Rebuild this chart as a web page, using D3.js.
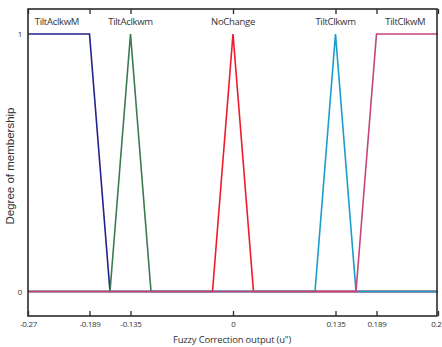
<!DOCTYPE html>
<html>
<head>
<meta charset="utf-8">
<script src="https://cdn.jsdelivr.net/npm/d3@7"></script>
<style>
  body { margin: 0; background: #fff; }
  svg { display: block; }
  .mf-label { font-family: "Open Sans", sans-serif; font-size: 9.5px; letter-spacing: -0.3px; fill: #333; }
  .tick text { font-family: "Open Sans", sans-serif; font-size: 8px; letter-spacing: -0.3px; fill: #333; }
</style>
</head>
<body>
<div id="chart"></div>
<script>
// fonctions d'appartenance (points x, y)
const mfNames = ["TiltAclkwM", "TiltAclkwm", "NoChange", "TiltClkwm", "TiltClkwM"];
const mfColors = ["#23238a", "#3c7a52", "#ee1c2a", "#1a9dcc", "#c4447e"];
const mfX = [
  [-0.27, -0.189, -0.162, 0.27],
  [-0.27, -0.162, -0.135, -0.108, 0.27],
  [-0.27, -0.027, 0, 0.027, 0.27],
  [-0.27, 0.108, 0.135, 0.162, 0.27],
  [-0.27, 0.162, 0.189, 0.27]
];
const mfY = [
  [1, 1, 0, 0],
  [0, 0, 1, 0, 0],
  [0, 0, 1, 0, 0],
  [0, 0, 1, 0, 0],
  [0, 0, 1, 1]
];
const labelX = [-0.232, -0.135, 0, 0.135, 0.227];
const xTicks = [-0.27, -0.189, -0.135, 0, 0.135, 0.189, 0.27];
const yTicks = [0, 1];

const width = 442, height = 347;
const mLeft = 28, mRight = 437, mTop = 9, mBottom = 316;

const svg = d3.select("#chart").append("svg")
  .attr("width", width)
  .attr("height", height);

const x = d3.scaleLinear().domain([-0.27, 0.27]).range([mLeft, 438]);
const y = d3.scaleLinear().domain([0, 1]).range([291.5, 34]);

// lignes
const line = d3.line().x(d => x(d[0])).y(d => y(d[1]));
mfX.forEach((xs, i) => {
  const pts = xs.map((v, j) => [v, mfY[i][j]]);
  svg.append("path")
    .datum(pts)
    .attr("d", line)
    .attr("fill", "none")
    .attr("stroke", mfColors[i])
    .attr("stroke-width", 1.6);
});

// cadre
svg.append("rect")
  .attr("x", mLeft).attr("y", mTop)
  .attr("width", mRight - mLeft).attr("height", mBottom - mTop)
  .attr("fill", "none")
  .attr("stroke", "#2b2b2b")
  .attr("stroke-width", 1.6);

// axes
const fmt = d => d === 0 ? "0" : String(d);
const xAxis = svg.append("g")
  .attr("transform", `translate(0,${mBottom})`)
  .call(d3.axisBottom(x).tickValues(xTicks).tickFormat(fmt).tickSizeInner(-5).tickSizeOuter(0).tickPadding(5));
xAxis.select(".domain").remove();
xAxis.selectAll(".tick line").attr("stroke", "#2b2b2b").attr("stroke-width", 1.3);

const xTop = svg.append("g")
  .attr("transform", `translate(0,${mTop})`)
  .call(d3.axisTop(x).tickValues(xTicks).tickFormat("").tickSizeInner(-5).tickSizeOuter(0));
xTop.select(".domain").remove();
xTop.selectAll(".tick line").attr("stroke", "#2b2b2b").attr("stroke-width", 1.3);

const yAxis = svg.append("g")
  .attr("transform", `translate(${mLeft},0)`)
  .call(d3.axisLeft(y).tickValues(yTicks).tickFormat(d3.format("d")).tickSize(0).tickPadding(6));
yAxis.select(".domain").remove();

// noms des fonctions
svg.selectAll(".mf-label")
  .data(mfNames)
  .join("text")
  .attr("class", "mf-label")
  .attr("x", (d, i) => x(labelX[i]))
  .attr("y", 25)
  .attr("text-anchor", "middle")
  .text(d => d);

svg.append("text")
  .attr("x", 232)
  .attr("y", 343)
  .attr("text-anchor", "middle")
  .style("font-family", "'Open Sans', sans-serif")
  .style("font-size", "9.5px")
  .style("letter-spacing", "-0.2px")
  .style("fill", "#333")
  .text("Fuzzy Correction output (u\")");

svg.append("text")
  .attr("transform", "translate(14,166) rotate(-90)")
  .attr("text-anchor", "middle")
  .style("font-family", "'Liberation Sans', Arial, sans-serif")
  .style("font-size", "11.5px")
  .style("fill", "#333")
  .text("Degree of membership");
</script>
</body>
</html>
